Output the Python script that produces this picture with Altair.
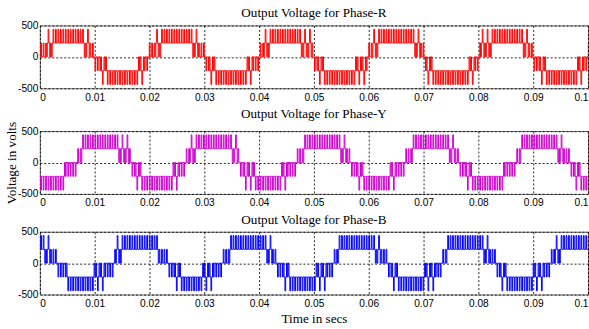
import altair as alt
import pandas as pd

# Simulation window and switching details
T_END = 0.1          # s
CYCLE = 0.02         # s, 50 Hz fundamental
CARRIER = 0.00045    # s, carrier period
DUTY = 0.3           # fraction of each carrier period spent at the upper level
STEP = 220           # V per inverter level

X_TICKS = [0, 0.01, 0.02, 0.03, 0.04, 0.05, 0.06, 0.07, 0.08, 0.09, 0.1]
Y_TICKS = [-500, 0, 500]

PHASES = ["R", "Y", "B"]
COLORS = ["#ff0000", "#cc00cc", "#0000ff"]

# Bands over one cycle: start time of each band and the band held from it.
# Band n switches between (n-1)*STEP and n*STEP, the sign gives polarity,
# and 1.5 marks a stretch that alternates between bands 1 and 2.
R_EDGES = [0.0, 0.0007, 0.0022, 0.0078, 0.0093, 0.0100, 0.0107, 0.0122, 0.0178, 0.0193]
R_BANDS = [1, 1.5, 2, 1.5, 1, -1, -1.5, -2, -1.5, -1]

Y_EDGES = [0.0, 0.0040, 0.0050, 0.00667, 0.0075, 0.0082, 0.0145, 0.0160, 0.01667, 0.0175, 0.0190]
Y_BANDS = [-2, -1.5, -1, 1, 1.5, 2, 1.5, 1, -1, -1.5, -2]

B_EDGES = [0.0, 0.0010, 0.0022, 0.00333, 0.0043, 0.0056, 0.0099, 0.0120, 0.01333, 0.0140, 0.0148]
B_BANDS = [2, 1.5, 1, -1, -1.5, -2, -1.5, -1, 1, 1.5, 2]

PATTERNS = [(R_EDGES, R_BANDS), (Y_EDGES, Y_BANDS), (B_EDGES, B_BANDS)]


def band_at(edges, bands, t):
    tm = t % CYCLE
    idx = 0
    for i, e in enumerate(edges):
        if e <= tm:
            idx = i
    return bands[idx]


def waveform(edges, bands):
    ts, vs = [], []
    prev = None
    for k in range(int(round(T_END / CARRIER)) + 1):
        t0 = k * CARRIER
        b = band_at(edges, bands, t0 + CARRIER / 2)
        s = 1 if b > 0 else -1
        m = abs(b)
        if m == 1.5:
            m = 1 if k % 2 == 0 else 2
        lo, hi = s * (m - 1) * STEP, s * m * STEP
        a = t0 + CARRIER * (1 - DUTY) / 2
        c = t0 + CARRIER * (1 + DUTY) / 2
        if prev is not None and prev != lo:
            ts.append(t0)
            vs.append(prev)
        ts += [t0, a, a, c, c]
        vs += [lo, lo, hi, hi, lo]
        prev = lo
    return pd.DataFrame({"t": ts, "v": vs, "i": range(len(ts))})


def panel(name, color, edges, bands, y_title, x_title):
    df = waveform(edges, bands)
    x_axis = alt.Axis(values=X_TICKS, format="~g", grid=True, labelPadding=4,
                      title=x_title, titlePadding=4)
    y_axis = alt.Axis(values=Y_TICKS, grid=True, labelPadding=2,
                      labelExpr="'' + datum.value", title=y_title, titlePadding=-1)
    return alt.Chart(df).mark_line(color=color, strokeWidth=1, clip=True).encode(
        x=alt.X("t:Q", scale=alt.Scale(domain=[0, T_END], nice=False, zero=False), axis=x_axis),
        y=alt.Y("v:Q", scale=alt.Scale(domain=[-500, 500], nice=False), axis=y_axis),
        order=alt.Order("i:Q"),
    ).properties(
        width=550, height=63,
        title=alt.TitleParams(f"Output Voltage for Phase-{name}", offset=0),
    )


panels = []
for idx, (name, color, (edges, bands)) in enumerate(zip(PHASES, COLORS, PATTERNS)):
    panels.append(panel(
        name, color, edges, bands,
        "Voltage in volts" if idx == 1 else None,
        "Time in secs" if idx == 2 else None,
    ))

chart = alt.vconcat(*panels, spacing=3).properties(
    padding={"left": 4, "top": 5, "right": 0, "bottom": 0},
    background="white",
).configure_view(
    stroke="#6e6e6e", strokeWidth=1,
).configure_axis(
    domain=False, ticks=False,
    labelFont="Liberation Sans", labelFontSize=10.2, labelColor="#000000",
    titleFont="Liberation Serif", titleFontSize=13.2, titleFontWeight="normal",
    titleColor="#000000",
    gridColor="#000000", gridDash=[2, 2], gridOpacity=0.85, gridWidth=1,
).configure_title(
    font="Liberation Serif", fontSize=13.2, fontWeight="normal", color="#000000",
    anchor="middle",
)

chart.save("out.html", embed_options={"renderer": "svg", "actions": False})
